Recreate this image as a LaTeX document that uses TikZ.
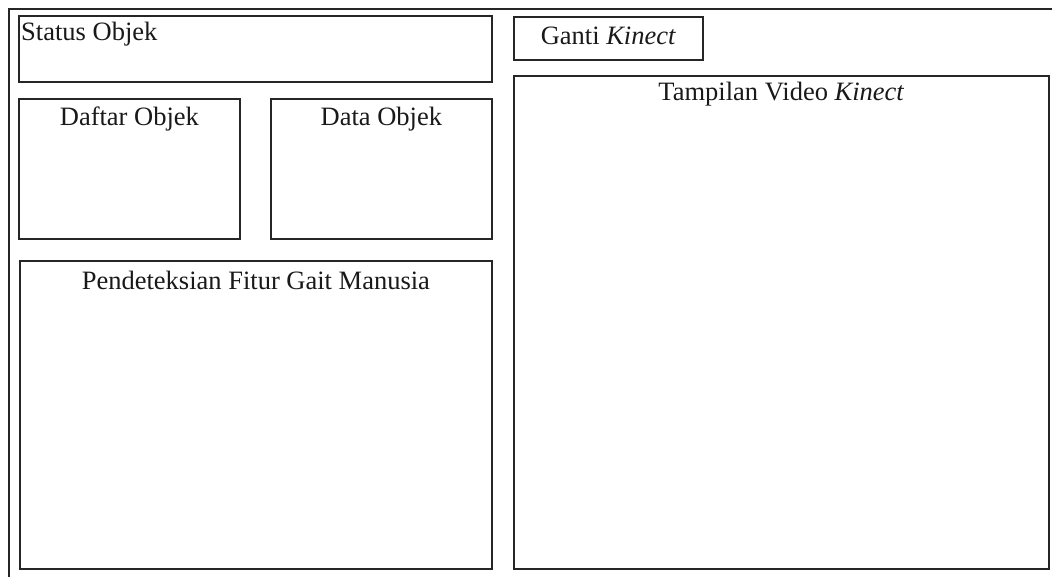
\documentclass[tikz,border=0pt]{standalone}
\usepackage{fontspec}
\setmainfont{Liberation Serif}
\usetikzlibrary{positioning}
\tikzset{
	panel/.style={
		rectangle, draw=black!85, line width=1.8pt, anchor=north west, inner sep=0pt
	},
	%
	caption/.style={
		inner sep=0pt, text height=17.5pt, text depth=6pt, text=black!90,
		font=\fontsize{26.5}{30}\selectfont
	}
}

\begin{document}
\begin{tikzpicture}[x=1pt,y=-1pt]
\useasboundingbox (0,0) rectangle (1052,577);
%frame
\coordinate (frameTL) at (9,9);
\coordinate (frameTR) at (1052,9);
\coordinate (frameBL) at (9,577);
\draw[line width=2pt, draw=black!85] (frameTR) -- (frameTL) -- (frameBL);

%panels
\node (status) [panel, minimum width=473pt, minimum height=66pt] at (18,15) {};
\node (daftar) [panel, minimum width=221pt, minimum height=140pt] at (18,98) {};
\node (data) [panel, minimum width=221pt, minimum height=140pt] at (270,98) {};
\node (gait) [panel, minimum width=472pt, minimum height=308pt] at (19,260) {};
\node (ganti) [panel, minimum width=189pt, minimum height=43pt] at (513,16) {};
\node (video) [panel, minimum width=535pt, minimum height=493pt] at (513,75) {};

%captions
\node (statusT) [caption, anchor=north west, below right=8pt and 3pt of status.north west] {Status Objek};
\node (daftarT) [caption, below=10pt of daftar.north] {Daftar Objek};
\node (dataT) [caption, below=10pt of data.north] {Data Objek};
\node (gaitT) [caption, below=12pt of gait.north] {Pendeteksian Fitur Gait Manusia};
\node (gantiT) [caption, below=11pt of ganti.north] {Ganti \textit{Kinect}};
\node (videoT) [caption, below=8pt of video.north] {Tampilan Video \textit{Kinect}};

\end{tikzpicture}
\end{document}
